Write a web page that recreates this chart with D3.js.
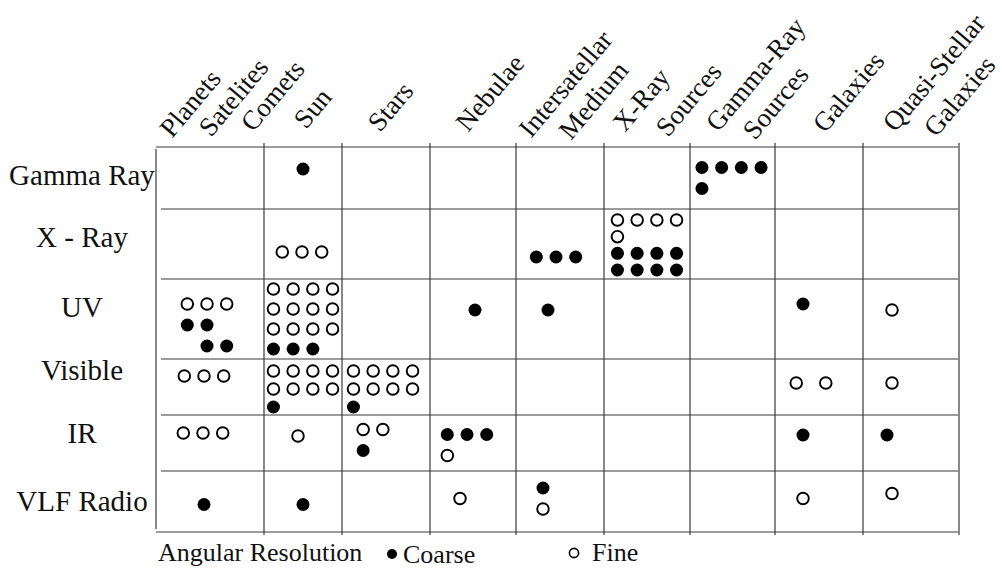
<!DOCTYPE html>
<html><head><meta charset="utf-8">
<script src="https://cdn.jsdelivr.net/npm/d3@7"></script>
<style>
html,body{margin:0;padding:0;background:#fff;}
svg{display:block;font-family:"Liberation Serif","Times New Roman",serif;}
</style>
</head><body>
<svg id="chart" width="1002" height="571"></svg>
<script>
// ---------- DATA ----------
const bands = ["Gamma Ray", "X - Ray", "UV", "Visible", "IR", "VLF Radio"];
const objectLabels = [
  ["Planets", "Satelites", "Comets"],
  ["Sun"],
  ["Stars"],
  ["Nebulae"],
  ["Intersatellar", "Medium"],
  ["X-Ray", "Sources"],
  ["Gamma-Ray", "Sources"],
  ["Galaxies"],
  ["Quasi-Stellar", "Galaxies"]
];
// ● = coarse angular resolution, ○ = fine; "/" separates lines of dots in a cell
const gammaRay = ["", "●", "", "", "", "", "●●●●/●", "", ""];
const xRay     = ["", "○○○", "", "", "●●●", "○○○○/○/●●●●/●●●●", "", "", ""];
const uv       = ["○○○/●●/ ●●", "○○○○/○○○○/○○○○/●●●", "", "●", "●", "", "", "●", "○"];
const visible  = ["○○○", "○○○○/○○○○/●", "○○○○/○○○○/●", "", "", "", "", "○_○", "○"];
const ir       = ["○○○", "○", "○○/●", "●●●/○", "", "", "", "●", "●"];
const vlfRadio = ["●", "●", "", "○", "●/○", "", "", "○", "○"];
const observations = [gammaRay, xRay, uv, visible, ir, vlfRadio];
const legendTitle = "Angular Resolution";
const legendItems = [{kind: "coarse", label: "Coarse"}, {kind: "fine", label: "Fine"}];

// ---------- LAYOUT ----------
const colEdges = [156, 264, 342, 430, 516, 604, 690, 775, 863, 959];
const rowEdges = [147, 209, 279, 359, 415, 471, 532];
const rowLabelDy = [7, 3, -2, -7, 0, 9];
const headerAnchors = [
  [[172, 139], [211, 138], [253, 133]],
  [[306, 130]],
  [[380, 133]],
  [[468, 133]],
  [[531, 139], [571, 141]],
  [[625, 133], [668, 138]],
  [[718, 133], [755, 141]],
  [[825, 134]],
  [[895, 133], [936, 138]]
];
// hand-placement offsets of the dot groups inside cells ("row,col": [dx, dy])
const cellNudge = {
  "0,1": [0, -9], "0,6": [-1, 0],
  "1,1": [-1, 8], "1,4": [-4, 13], "1,5": [0, 1],
  "2,0": [-3, 6], "2,3": [2, -9], "2,4": [-12, -9], "2,7": [-16, -15], "2,8": [-19, -9],
  "3,0": [-6, -11], "3,1": [0, 2], "3,2": [-3, 2], "3,7": [-8, -4], "3,8": [-19, -4],
  "4,0": [-7, -10], "4,1": [-5, -7], "4,2": [-13, -3], "4,3": [-6, 2], "4,7": [-16, -8], "4,8": [-24, -8],
  "5,0": [-6, 3], "5,1": [0, 3], "5,3": [-13, -3], "5,4": [-17, -3], "5,7": [-16, -3], "5,8": [-19, -8]
};
const pitchX = 19.7, maxPitchY = 21;
const rFill = 6.5, rOpen = 5.8;

const svg = d3.select("#chart");
const x = d3.scaleLinear().domain(d3.range(colEdges.length)).range(colEdges);
const y = d3.scaleLinear().domain(d3.range(rowEdges.length)).range(rowEdges);
const gridColor = "#3a3a3a";

// grid
const grid = svg.append("g").attr("stroke", gridColor).attr("stroke-width", 1.2);
grid.selectAll("line.h").data(d3.range(rowEdges.length)).join("line")
  .attr("class", "h")
  .attr("x1", i => (i === 0 || i === rowEdges.length - 1) ? x(0) : x(0) + 5)
  .attr("x2", x(colEdges.length - 1) - 1)
  .attr("y1", i => y(i)).attr("y2", i => y(i));
grid.selectAll("line.v").data(d3.range(colEdges.length)).join("line")
  .attr("class", "v")
  .attr("x1", i => x(i)).attr("x2", i => x(i))
  .attr("y1", i => i === 0 ? y(0) + 2 : y(0) - 4)
  .attr("y2", i => i === 0 ? y(rowEdges.length - 1) - 3 : y(rowEdges.length - 1) + 3);

// row labels
svg.append("g").selectAll("text").data(bands).join("text")
  .attr("x", 82)
  .attr("y", (d, i) => (y(i) + y(i + 1)) / 2 + rowLabelDy[i])
  .attr("text-anchor", "middle")
  .attr("font-size", 29)
  .attr("fill", "#111")
  .text(d => d);

// column header labels
const headerLines = [];
objectLabels.forEach((lines, j) => lines.forEach((t, k) => headerLines.push({t, pos: headerAnchors[j][k]})));
svg.append("g").selectAll("text").data(headerLines).join("text")
  .attr("transform", d => `translate(${d.pos[0]},${d.pos[1]}) rotate(-50)`)
  .attr("font-size", 27)
  .attr("fill", "#111")
  .text(d => d.t);

// dots
const dots = [];
observations.forEach((row, i) => row.forEach((pattern, j) => {
  if (!pattern) return;
  const parsed = pattern.split("/").map(line => {
    let pos = 0; const out = [];
    for (const ch of line) {
      if (ch === "●" || ch === "○") { out.push({slot: pos, kind: ch === "●" ? "coarse" : "fine"}); pos += 1; }
      else if (ch === " ") pos += 1;
      else if (ch === "_") pos += 0.5;
    }
    return out;
  });
  const maxSlot = d3.max(parsed.flat(), d => d.slot);
  const n = parsed.length;
  const cellH = y(i + 1) - y(i);
  const pY = n > 1 ? Math.min(maxPitchY, (cellH - 20) / (n - 1)) : 0;
  const nudge = cellNudge[i + "," + j] || [0, 0];
  const cx = (x(j) + x(j + 1)) / 2 + nudge[0], cy = (y(i) + y(i + 1)) / 2 + nudge[1];
  const sx = d3.scaleLinear().domain([0, Math.max(maxSlot, 1)])
    .range([cx - maxSlot * pitchX / 2, cx - maxSlot * pitchX / 2 + Math.max(maxSlot, 1) * pitchX]);
  const sy = d3.scaleLinear().domain([0, Math.max(n - 1, 1)])
    .range([cy - (n - 1) * pY / 2, cy - (n - 1) * pY / 2 + Math.max(n - 1, 1) * pY]);
  parsed.forEach((line, li) => line.forEach(d => dots.push({kind: d.kind, cx: sx(d.slot), cy: sy(li)})));
}));
svg.append("g").selectAll("circle").data(dots).join("circle")
  .attr("cx", d => d.cx).attr("cy", d => d.cy)
  .attr("r", d => d.kind === "coarse" ? rFill : rOpen)
  .attr("fill", d => d.kind === "coarse" ? "#000" : "#fff")
  .attr("stroke", d => d.kind === "coarse" ? "none" : "#000")
  .attr("stroke-width", 1.9);

// legend
const lg = svg.append("g").attr("font-size", 26).attr("fill", "#111");
lg.append("text").attr("x", 158).attr("y", 561).text(legendTitle);
const legendPos = [{cx: 392, cy: 554, tx: 403, ty: 563, r: 5}, {cx: 574, cy: 553, tx: 592, ty: 561, r: 4.6}];
legendItems.forEach((it, k) => {
  const p = legendPos[k];
  lg.append("circle").attr("cx", p.cx).attr("cy", p.cy).attr("r", p.r)
    .attr("fill", it.kind === "coarse" ? "#000" : "#fff")
    .attr("stroke", it.kind === "coarse" ? "none" : "#000").attr("stroke-width", 1.6);
  lg.append("text").attr("x", p.tx).attr("y", p.ty).text(it.label);
});
</script>
</body></html>
